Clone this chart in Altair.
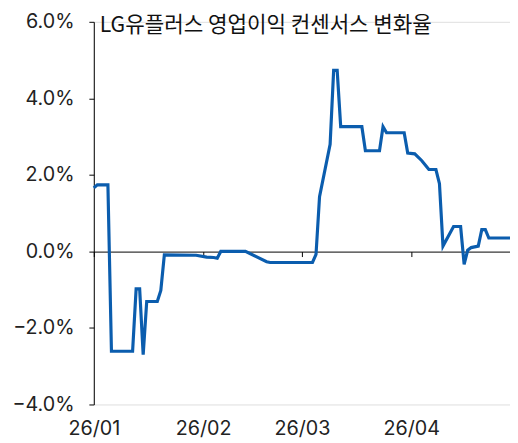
import altair as alt
import pandas as pd

title_text = "LG유플러스 영업이익 컨센서스 변화율"

dates = [
    "2026-01-01", "2026-01-02", "2026-01-05", "2026-01-06", "2026-01-12",
    "2026-01-13", "2026-01-14", "2026-01-15", "2026-01-16", "2026-01-19",
    "2026-01-20", "2026-01-21", "2026-01-30", "2026-02-02", "2026-02-04",
    "2026-02-05", "2026-02-06", "2026-02-13", "2026-02-19", "2026-02-20",
    "2026-03-04", "2026-03-05", "2026-03-06", "2026-03-09", "2026-03-10",
    "2026-03-11", "2026-03-12", "2026-03-18", "2026-03-19", "2026-03-23",
    "2026-03-24", "2026-03-25", "2026-03-30", "2026-03-31", "2026-04-02",
    "2026-04-04", "2026-04-06", "2026-04-08", "2026-04-09", "2026-04-10",
    "2026-04-13", "2026-04-15", "2026-04-16", "2026-04-17", "2026-04-18",
    "2026-04-20", "2026-04-21", "2026-04-22", "2026-04-23", "2026-04-29",
]
values = [
    1.66, 1.74, 1.74, -2.61, -2.61,
    -0.98, -0.98, -2.70, -1.31, -1.31,
    -1.02, -0.09, -0.10, -0.15, -0.16,
    -0.18, 0.00, 0.00, -0.27, -0.29,
    -0.29, -0.08, 1.43, 2.80, 4.73,
    4.73, 3.26, 3.26, 2.63, 2.63,
    3.26, 3.10, 3.10, 2.57, 2.55,
    2.37, 2.14, 2.14, 1.77, 0.14,
    0.65, 0.65, -0.34, 0.03, 0.10,
    0.14, 0.57, 0.57, 0.35, 0.35,
]
month_ticks = ["2026-01-01", "2026-02-01", "2026-03-01", "2026-04-01"]
x_domain = ["2026-01-01", "2026-04-29"]
y_ticks = [-4, -2, 0, 2, 4, 6]

df = pd.DataFrame({"date": dates, "value": values})

to_ms = lambda s: int(pd.Timestamp(s, tz="UTC").value // 10**6)

LABEL_FONT = "Inter"
BLUE = "#0B5DAE"

x_enc = alt.X(
    "date:T",
    scale=alt.Scale(type="utc", domain=[to_ms(d) for d in x_domain]),
    axis=alt.Axis(
        values=[to_ms(d) for d in month_ticks],
        labelExpr="utcFormat(datum.value, '%y/%m')",
        title=None,
        grid=False,
        domain=True,
        domainColor="black",
        domainWidth=1,
        ticks=True,
        tickColor="black",
        tickSize=5,
        offset=-155,
        labelPadding=164,
        labelFont=LABEL_FONT,
        labelFontSize=20,
        labelColor="#222222",
        labelAlign="center",
        labelFlush=False,
    ),
)
y_enc = alt.Y(
    "value:Q",
    scale=alt.Scale(domain=[-4, 6], nice=False, zero=False),
    axis=alt.Axis(
        values=y_ticks,
        labelExpr="format(datum.value, '.1f') + '%'",
        title=None,
        grid=False,
        domainColor="black",
        domainWidth=1,
        tickColor="black",
        tickSize=5,
        labelPadding=15,
        labelFont=LABEL_FONT,
        labelFontSize=20,
        labelColor="#222222",
    ),
)

line = alt.Chart(df).mark_line(color=BLUE, strokeWidth=3.2, strokeJoin="miter", clip=False).encode(
    x=x_enc, y=y_enc
)

title = alt.Chart(pd.DataFrame({"t": [title_text]})).mark_text(
    align="left",
    baseline="alphabetic",
    font="Noto Sans CJK KR",
    fontSize=21.5,
    color="#111111",
).encode(text="t:N", x=alt.value(6), y=alt.value(10))

chart = (
    alt.layer(line, title)
    .properties(
        width=422,
        height=388,
        autosize=alt.AutoSizeParams(type="none"),
        padding={"left": 87, "top": 11, "right": 0, "bottom": 32},
    )
    .configure_view(stroke=None)
    .configure(background="white")
)

chart.save("out.html", embed_options={"renderer": "svg", "actions": False})
